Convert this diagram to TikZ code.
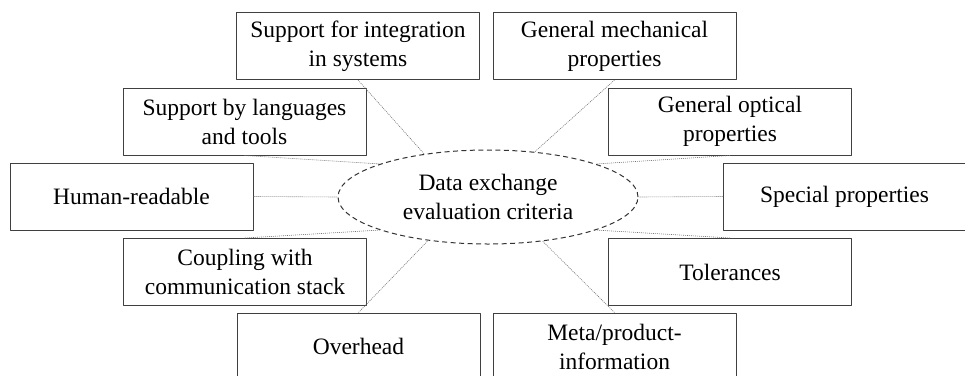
\documentclass[tikz,border=0pt]{standalone}
\usepackage{fontspec}
\setmainfont{Liberation Serif}
\usetikzlibrary{shapes.geometric}

\begin{document}
\begin{tikzpicture}[x=1pt,y=-1pt,line join=round,
  crit/.style={draw=black!75,line width=1pt,minimum width=243pt,minimum height=67pt,inner sep=0pt,align=center,font=\fontsize{23.5}{29}\selectfont},
  hub/.style={ellipse,draw=black!80,line width=1pt,dash pattern=on 5pt off 3.5pt,minimum width=300pt,minimum height=94pt,inner sep=0pt,align=center,font=\fontsize{23.5}{29}\selectfont},
  link/.style={draw=black!55,line width=0.6pt,dash pattern=on 1pt off 1pt}]
\useasboundingbox (0,0) rectangle (965,375);
\clip (0,0) rectangle (965,375);
% centre
\node[hub] (hub) at (488,197) {Data exchange\\evaluation criteria};
% left side
\node[crit] (integ) at (358,46) {Support for integration\\in systems};
\node[crit] (lang) at (244.5,121.5) {Support by languages\\and tools};
\node[crit] (human) at (131.5,196.5) {Human-readable};
\node[crit] (coup) at (245,272) {Coupling with\\communication stack};
\node[crit] (over) at (358.5,346.5) {Overhead};
% right side
\node[crit] (mech) at (614.5,46) {General mechanical\\properties};
\node[crit] (opt) at (730,121.5) {General optical\\properties};
\node[crit] (spec) at (844.5,196.5) {Special properties};
\node[crit] (tol) at (730,272) {Tolerances};
\node[crit] (meta) at (614.5,346.5) {Meta/product-\\information};
\foreach \n/\s/\a in {integ/south/146,lang/south/163,human/east/180,coup/north/197,over/north/216,mech/south/44,opt/south/17,spec/west/0,tol/north/343,meta/north/321}
\draw[link] (\n.\s) -- (hub.\a);
\end{tikzpicture}
\end{document}
